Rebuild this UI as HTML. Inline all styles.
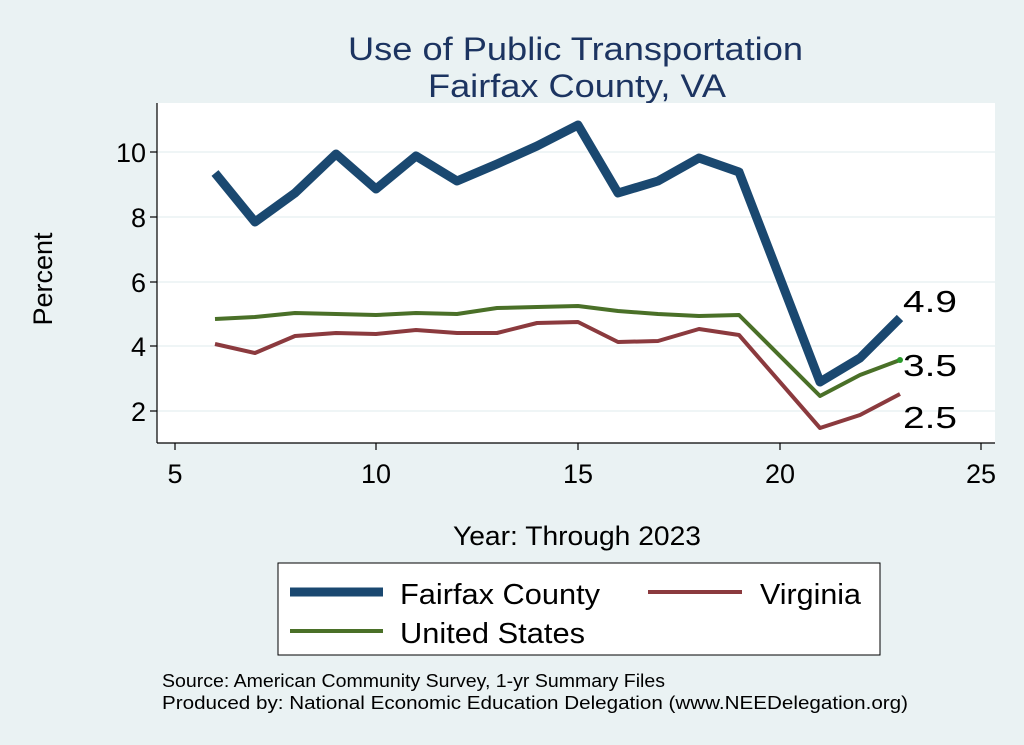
<!DOCTYPE html>
<html><head><meta charset="utf-8"><style>
html,body{margin:0;padding:0;background:#eaf2f3;}
svg{display:block;font-family:"Liberation Sans",Arial,sans-serif;}
</style></head><body>
<svg width="1024" height="745" viewBox="0 0 1024 745">
<rect width="1024" height="745" fill="#eaf2f3"/>
<text x="348" y="60" font-size="32" fill="#1c3461" textLength="455" lengthAdjust="spacingAndGlyphs">Use of Public Transportation</text>
<text x="428" y="97" font-size="32" fill="#1c3461" textLength="298" lengthAdjust="spacingAndGlyphs">Fairfax County, VA</text>
<rect x="157" y="103" width="838" height="340" fill="#ffffff"/>
<g stroke="#eaf2f3" stroke-width="1.5">
<line x1="157" x2="995" y1="152" y2="152"/><line x1="157" x2="995" y1="217" y2="217"/>
<line x1="157" x2="995" y1="282" y2="282"/><line x1="157" x2="995" y1="346" y2="346"/>
<line x1="157" x2="995" y1="411" y2="411"/>
</g>
<g stroke="#000" stroke-width="1.2">
<line x1="157" y1="103" x2="157" y2="443"/><line x1="157" y1="443" x2="995" y2="443"/>
<line x1="150" x2="157" y1="152" y2="152"/><line x1="150" x2="157" y1="217" y2="217"/>
<line x1="150" x2="157" y1="282" y2="282"/><line x1="150" x2="157" y1="346" y2="346"/>
<line x1="150" x2="157" y1="411" y2="411"/>
<line x1="175" x2="175" y1="443" y2="450"/><line x1="376" x2="376" y1="443" y2="450"/>
<line x1="578" x2="578" y1="443" y2="450"/><line x1="780" x2="780" y1="443" y2="450"/>
<line x1="981" x2="981" y1="443" y2="450"/>
</g>
<g font-size="27" fill="#000" text-anchor="end">
<text x="146" y="162">10</text><text x="146" y="227">8</text><text x="146" y="292">6</text>
<text x="146" y="356">4</text><text x="146" y="421">2</text>
</g>
<g font-size="27" fill="#000" text-anchor="middle">
<text x="175" y="483">5</text><text x="376" y="483">10</text><text x="578" y="483">15</text>
<text x="780" y="483">20</text><text x="981" y="483">25</text>
</g>
<text x="52" y="279" font-size="27" text-anchor="middle" transform="rotate(-90 52 279)">Percent</text>
<text x="453" y="545" font-size="27" textLength="248" lengthAdjust="spacingAndGlyphs">Year: Through 2023</text>
<polyline fill="none" stroke="#8b3a3e" stroke-width="4" stroke-linejoin="round" points="215,344 255,353 295,336 336,333 376,334 416,330 457,333 497,333 537,323 578,322 618,342 658,341 699,329 739,335 820,428 860,415 900,394"/>
<polyline fill="none" stroke="#4a7028" stroke-width="4" stroke-linejoin="round" points="215,319 255,317 295,313 336,314 376,315 416,313 457,314 497,308 537,307 578,306 618,311 658,314 699,316 739,315 820,396 860,375 900,360"/>
<circle cx="900" cy="360" r="3" fill="#2a9a2a"/>
<polyline fill="none" stroke="#1a4870" stroke-width="9" stroke-linejoin="round" points="215,173 255,222 295,193 336,154 376,189 416,156 457,181 497,164 537,146 578,125 618,193 658,181 699,158 739,172 820,382 860,358 900,318"/>
<g font-size="31" fill="#000">
<text x="903" y="312" textLength="54" lengthAdjust="spacingAndGlyphs">4.9</text><text x="903" y="376" textLength="54" lengthAdjust="spacingAndGlyphs">3.5</text><text x="903" y="428" textLength="54" lengthAdjust="spacingAndGlyphs">2.5</text>
</g>
<rect x="278" y="563" width="602" height="92" fill="#fff" stroke="#000" stroke-width="1"/>
<line x1="290" x2="383" y1="592" y2="592" stroke="#1a4870" stroke-width="9"/>
<text x="400" y="604" font-size="29" textLength="200" lengthAdjust="spacingAndGlyphs">Fairfax County</text>
<line x1="648" x2="742" y1="592" y2="592" stroke="#8b3a3e" stroke-width="4"/>
<text x="760" y="604" font-size="29" textLength="101" lengthAdjust="spacingAndGlyphs">Virginia</text>
<line x1="290" x2="383" y1="631" y2="631" stroke="#4a7028" stroke-width="4"/>
<text x="400" y="643" font-size="29" textLength="185" lengthAdjust="spacingAndGlyphs">United States</text>
<text x="162" y="687" font-size="18" textLength="503" lengthAdjust="spacingAndGlyphs">Source: American Community Survey, 1-yr Summary Files</text>
<text x="162" y="709" font-size="18" textLength="746" lengthAdjust="spacingAndGlyphs">Produced by: National Economic Education Delegation (www.NEEDelegation.org)</text>
</svg>
</body></html>
